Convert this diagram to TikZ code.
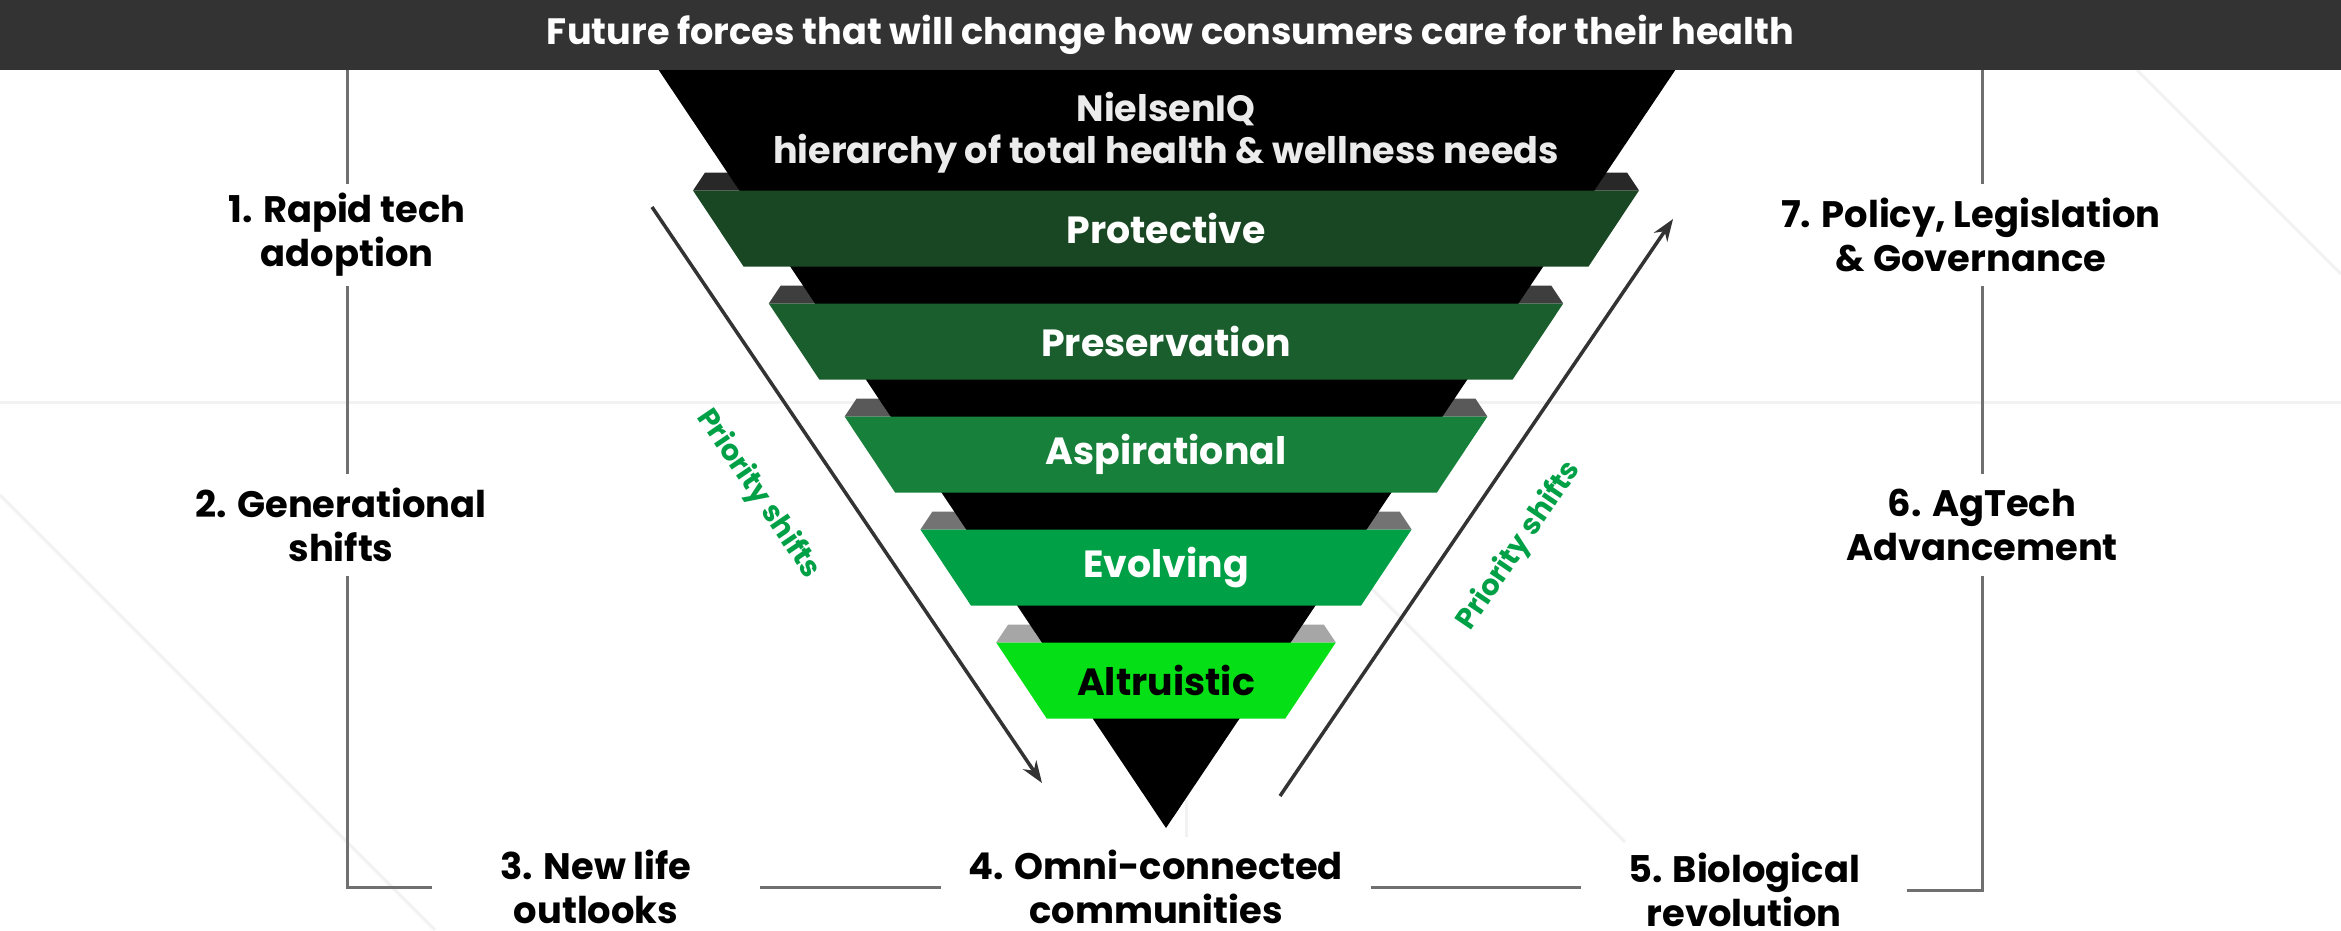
\documentclass[tikz,border=0pt]{standalone}
\usepackage{fontspec}
\setmainfont{Poppins}
\usetikzlibrary{arrows.meta,calc}

\definecolor{hdrgray}{HTML}{333333}
\definecolor{arrgray}{HTML}{333333}
\definecolor{linegray}{HTML}{707070}
\definecolor{faintgray}{HTML}{F2F2F2}
\definecolor{nqwhite}{HTML}{EBEBEB}
\definecolor{prio}{HTML}{00A046}
\definecolor{bandA}{HTML}{1A4723}
\definecolor{bandB}{HTML}{1B5E2E}
\definecolor{bandC}{HTML}{17803A}
\definecolor{bandD}{HTML}{00A046}
\definecolor{bandE}{HTML}{05E016}
\definecolor{tabA}{HTML}{282828}
\definecolor{tabB}{HTML}{3E3E3E}
\definecolor{tabC}{HTML}{595959}
\definecolor{tabD}{HTML}{737373}
\definecolor{tabE}{HTML}{A6A6A6}

\begin{document}
\begin{tikzpicture}[x=1bp,y=-1bp,
  faint/.style={draw=faintgray, line width=3bp},
  conn/.style={draw=linegray, line width=3bp},
  arr/.style={draw=arrgray, line width=3.5bp, -{Stealth[length=22bp,width=16bp]}},
  lbl/.style={font=\bfseries\fontsize{37}{44}\selectfont, align=center, inner sep=0pt},
  bandlbl/.style={font=\bfseries\fontsize{38}{44}\selectfont, inner sep=0pt},
  priolbl/.style={font=\bfseries\fontsize{29}{33}\selectfont, text=prio, inner sep=0pt}]

\useasboundingbox (0,0) rectangle (2341,930);
\fill[white] (0,0) rectangle (2341,930);

% faint background strokes
\draw[faint] (0,402) -- (2341,402);
\draw[faint] (0,495) -- (435,930);
\draw[faint] (2137,70) -- (2341,274);
\draw[faint] (1200,417) -- (1625,842);
\draw[faint] (1186,800) -- (1186,837);

% gray top faces of the funnel steps
\foreach \i/\tc in {0/tabA,1/tabB,2/tabC,3/tabD,4/tabE}{
  \pgfmathsetmacro\t{190.5+113*\i}
  \pgfmathsetmacro\hw{473-75.8*\i}
  \fill[\tc] ({1166-\hw+12},{\t-18}) -- ({1166+\hw-12},{\t-18})
     -- ({1166+\hw},{\t}) -- ({1166-\hw},{\t}) -- cycle;
}

% black inverted triangle
\fill[black] (652,60) -- (1682,60) -- (1166,828) -- cycle;

% funnel steps
\foreach \i/\bc in {0/bandA,1/bandB,2/bandC,3/bandD,4/bandE}{
  \pgfmathsetmacro\t{190.5+113*\i}
  \pgfmathsetmacro\hw{473-75.8*\i}
  \fill[\bc] ({1166-\hw},{\t}) -- ({1166+\hw},{\t})
     -- ({1166+\hw-50.5},{\t+76}) -- ({1166-\hw+50.5},{\t+76}) -- cycle;
}
\node[bandlbl, text=white] (s1) at (1166,228.5) {Protective};
\node[bandlbl, text=white] (s2) at (1166,341.5) {Preservation};
\node[bandlbl, text=white] (s3) at (1166,454.5) {Aspirational};
\node[bandlbl, text=white] (s4) at (1166,567.5) {Evolving};
\node[bandlbl, text=black] (s5) at (1166,680.5) {Altruistic};

\node[font=\bfseries\fontsize{36.7}{42}\selectfont, text=nqwhite, align=center, inner sep=0pt]
  (nq) at (1166,133) {NielsenIQ\\hierarchy of total health \& wellness needs};

% header bar
\node[fill=hdrgray, minimum width=2341bp, minimum height=70bp, inner sep=0pt,
  text=white, font=\bfseries\fontsize{36.8}{42}\selectfont] (hdr) at (1170.5,35)
  {Future forces that will change how consumers care for their health};

% priority arrows
\coordinate (d0) at (652,207);
\coordinate (d1) at (1042,783);
\coordinate (u0) at (1280,796);
\coordinate (u1) at (1673,219);
\draw[arr] (d0) -- (d1);
\draw[arr] (u0) -- (u1);
\node[priolbl, rotate=-55.8] (p1) at (758,494) {Priority shifts};
\node[priolbl, rotate=55.8] (p2) at (1519,546) {Priority shifts};

% the seven forces
\node[lbl, minimum height=102bp] (n1) at (347,235) {1. Rapid tech\\adoption};
\node[lbl, minimum height=102bp] (n2) at (341,525) {2. Generational\\shifts};
\node[lbl, minimum width=327bp] (n3) at (596,887) {3. New life\\outlooks};
\node[lbl, minimum width=430bp] (n4) at (1156,887) {4. Omni-connected\\communities};
\node[lbl, minimum width=326bp] (n5) at (1744,890) {5. Biological\\revolution};
\node[lbl, minimum height=102bp] (n6) at (1982,525) {6. AgTech\\Advancement};
\node[lbl, minimum height=102bp] (n7) at (1971,235) {7. Policy, Legislation\\\& Governance};

% connectors between the forces
\draw[conn] (n1.north |- hdr.south) -- (n1.north);
\draw[conn] (n1.south) -- (n1.south |- n2.north);
\draw[conn] (n1.south |- n2.south) |- (n3.west);
\draw[conn] (n3.east) -- (n4.west |- n3.east);
\draw[conn] (n4.east) -- (n5.west |- n4.east);
\draw[conn] (n5.east) -| (n6.south);
\draw[conn] (n6.north) -- (n6.north |- n7.south);
\draw[conn] (n6.north |- n7.north) -- (n6.north |- hdr.south);
\end{tikzpicture}
\end{document}
